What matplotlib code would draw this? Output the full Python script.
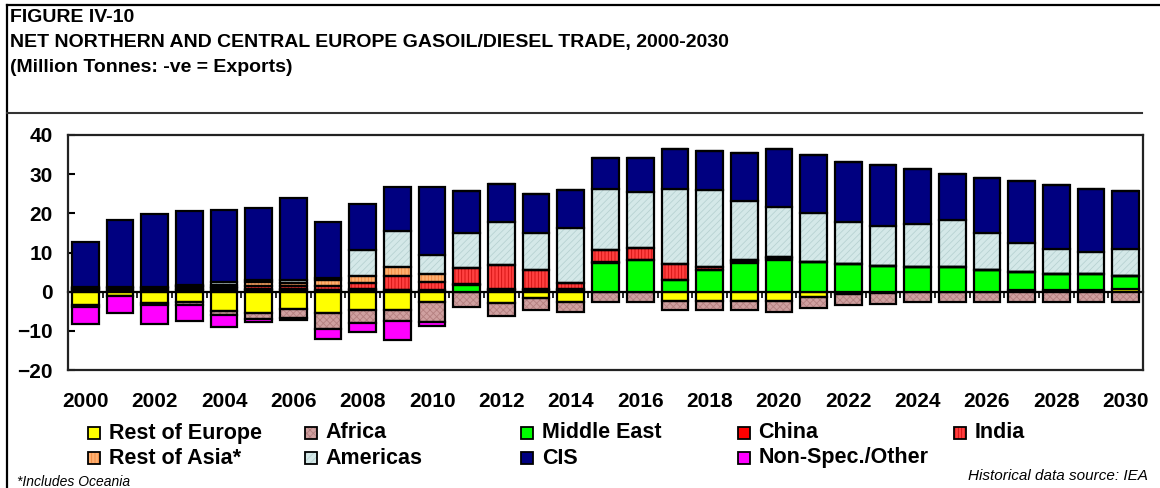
import matplotlib
matplotlib.use("Agg")
import matplotlib.pyplot as plt
from matplotlib.patches import Rectangle
from matplotlib.lines import Line2D
import numpy as np

plt.rcParams['font.family'] = ['Liberation Sans', 'DejaVu Sans']
plt.rcParams['hatch.linewidth'] = 0.6

# data (million tonnes, -ve = exports)
years = list(range(2000, 2031))
year_labels = [str(y) if y % 2 == 0 else "" for y in years]

rest_europe = [-3.5, -1.0, -2.8, -2.6, -5.0, -5.4, -4.4, -5.5, -4.6, -4.6,
               -2.6, -0.2, -3.0, -1.5, -2.6, 0.0, 0.0, -2.4, -2.5, -2.5,
               -2.5, -1.4, -0.5, -0.3, 0.0, 0.0, 0.0, 0.3, 0.3, 0.3, 0.6]
africa = [-0.5, -0.2, -0.6, -0.7, -1.0, -1.6, -2.2, -4.1, -3.4, -3.0,
          -5.1, -3.8, -3.1, -3.2, -2.5, -2.7, -2.7, -2.3, -2.2, -2.2,
          -2.8, -2.8, -3.0, -2.9, -2.6, -2.6, -2.6, -2.6, -2.6, -2.6, -2.6]
middle_east = [0.4, 0.4, 0.4, 0.3, 0.5, 0.3, 0.3, 0.3, 0.3, 0.3,
               0.2, 1.8, 0.3, 0.3, 0.3, 7.4, 8.0, 3.1, 5.6, 7.3,
               8.0, 7.5, 7.0, 6.5, 6.2, 6.2, 5.6, 4.6, 4.2, 4.2, 3.4]
china = [0.4, 0.5, 0.5, 0.3, 0.4, 0.3, 0.3, 0.2, 0.3, 0.2,
         0.2, 0.2, 0.4, 0.3, 0.3, 0.1, 0.1, 0.0, 0.0, 0.5,
         0.5, 0.2, 0.0, 0.0, 0.0, 0.0, 0.0, 0.0, 0.0, 0.0, 0.0]
india = [0.2, 0.2, 0.2, 0.6, 0.3, 0.8, 0.8, 1.0, 1.7, 3.6,
         2.1, 4.1, 6.0, 4.9, 1.5, 3.2, 3.1, 4.0, 0.8, 0.3,
         0.3, 0.0, 0.0, 0.0, 0.0, 0.0, 0.0, 0.0, 0.0, 0.0, 0.0]
rest_asia = [0.0, 0.0, 0.0, 0.3, 0.6, 1.1, 0.9, 1.5, 1.8, 2.3,
             1.9, 0.0, 0.0, 0.0, 0.0, 0.0, 0.0, 0.0, 0.0, 0.0,
             0.0, 0.0, 0.0, 0.0, 0.0, 0.0, 0.0, 0.0, 0.0, 0.0, 0.0]
americas = [0.1, 0.1, 0.1, 0.2, 0.7, 0.5, 0.6, 0.5, 6.6, 9.1,
            5.0, 8.9, 11.0, 9.4, 14.2, 15.5, 14.2, 19.2, 19.5, 15.1,
            12.8, 12.5, 10.7, 10.2, 11.0, 12.0, 9.5, 7.6, 6.4, 5.6, 6.9]
cis = [11.7, 17.2, 18.7, 18.9, 18.4, 18.4, 21.1, 14.4, 11.8, 11.1,
       17.2, 10.6, 9.9, 10.1, 9.7, 8.0, 8.8, 10.0, 10.0, 12.1,
       14.7, 14.6, 15.4, 15.6, 14.1, 11.9, 14.0, 15.7, 16.3, 16.0, 14.7]
non_spec = [-4.3, -4.2, -4.9, -4.3, -2.9, -0.8, -0.6, -2.6, -2.2, -4.8,
            -1.0, 0.0, 0.0, 0.0, 0.0, 0.0, 0.0, 0.0, 0.0, 0.0,
            0.0, 0.0, 0.0, 0.0, 0.0, 0.0, 0.0, 0.0, 0.0, 0.0, 0.0]

names = ["Rest of Europe", "Africa", "Middle East", "China", "India",
         "Rest of Asia*", "Americas", "CIS", "Non-Spec./Other"]
series = [rest_europe, africa, middle_east, china, india,
          rest_asia, americas, cis, non_spec]
# face colour, hatch, hatch colour
styles = [("#FFFF00", None, None),
          ("#CFA0A0", "xxxxx", "#B48080"),
          ("#00FF00", None, None),
          ("#FF0000", None, None),
          ("#FF4040", "|||||", "#D01010"),
          ("#FFB070", "|||||", "#F08840"),
          ("#D4E8E8", "/////", "#B8D2D2"),
          ("#000080", None, None),
          ("#FF00FF", None, None)]

W, H = 1160, 488
fig = plt.figure(figsize=(W / 100, H / 100), dpi=100)

ax = fig.add_axes([68 / W, 1 - 370 / H, (1143 - 68) / W, (370 - 135) / H])
x = np.arange(len(years))
pos = np.zeros(len(years))
neg = np.zeros(len(years))
for vals, (fc, hatch, hc) in zip(series, styles):
    v = np.array(vals)
    bottom = np.where(v >= 0, pos, neg)
    if hatch:
        ax.bar(x, v, 0.77, bottom=bottom, color=fc, hatch=hatch,
               edgecolor=hc, linewidth=0, zorder=2)
        ax.bar(x, v, 0.77, bottom=bottom, facecolor="none",
               edgecolor="black", linewidth=1.6, zorder=3)
    else:
        ax.bar(x, v, 0.77, bottom=bottom, color=fc,
               edgecolor="black", linewidth=1.6, zorder=3)
    pos = pos + np.where(v > 0, v, 0)
    neg = neg + np.where(v < 0, v, 0)

ax.set_xlim(-0.5, len(years) - 0.5)
ax.set_ylim(-20, 40)
ax.set_yticks(range(-20, 41, 10))
ax.tick_params(axis="y", direction="in", length=5, width=1.5, pad=11)
ax.set_xticks(x[::2])
ax.set_xticklabels(year_labels[::2])
ax.tick_params(axis="x", length=0, pad=16)
for lab in ax.get_xticklabels() + ax.get_yticklabels():
    lab.set_fontsize(15)
    lab.set_fontweight("bold")
for sp in ax.spines.values():
    sp.set_linewidth(1.6)
    sp.set_color("#222222")

# category axis crossing at zero
zero_ax = ax.secondary_xaxis(20 / 60)
zero_ax.set_xticks(np.arange(len(years) + 1) - 0.5)
zero_ax.xaxis.set_ticks_position("bottom")
zero_ax.tick_params(axis="x", direction="out", length=4, width=1.2,
                    labelbottom=False, labeltop=False)
zero_ax.spines["bottom"].set_linewidth(1.6)

# titles
fig.text(10 / W, 1 - 17 / H, "FIGURE IV-10", fontsize=14,
         fontweight="bold", va="center")
fig.text(10 / W, 1 - 42 / H,
         "NET NORTHERN AND CENTRAL EUROPE GASOIL/DIESEL TRADE, 2000-2030",
         fontsize=14, fontweight="bold", va="center")
fig.text(10 / W, 1 - 68 / H, "(Million Tonnes: -ve = Exports)",
         fontsize=14, fontweight="bold", va="center")

# frame lines
fig.add_artist(Line2D([7 / W, 1], [1 - 5 / H, 1 - 5 / H], color="black", lw=1.6))
fig.add_artist(Line2D([7 / W, 7 / W], [0, 1 - 5 / H], color="black", lw=1.6))
fig.add_artist(Line2D([7 / W, 1142 / W], [1 - 113 / H, 1 - 113 / H],
                      color="#333333", lw=1.5))

# legend
for i, (name, (fc, hatch, hc)) in enumerate(zip(names, styles)):
    col, row = i % 5, i // 5
    x0 = 88 + col * 216.5
    yc = 433 + row * 25
    fig.add_artist(Rectangle((x0 / W, 1 - (yc + 6) / H), 12 / W, 12 / H,
                             transform=fig.transFigure, facecolor=fc,
                             hatch=hatch, edgecolor=hc if hatch else fc,
                             linewidth=0))
    fig.add_artist(Rectangle((x0 / W, 1 - (yc + 6) / H), 12 / W, 12 / H,
                             transform=fig.transFigure, facecolor="none",
                             edgecolor="black", linewidth=1.3))
    fig.text((x0 + 21) / W, 1 - yc / H, name, fontsize=15.5,
             fontweight="bold", va="center")

fig.text(17 / W, 1 - 482 / H, "*Includes Oceania", fontsize=10,
         style="italic", va="center")
fig.text(1148 / W, 1 - 476 / H, "Historical data source: IEA", fontsize=11,
         style="italic", va="center", ha="right")

fig.savefig("out.png", dpi=100)
